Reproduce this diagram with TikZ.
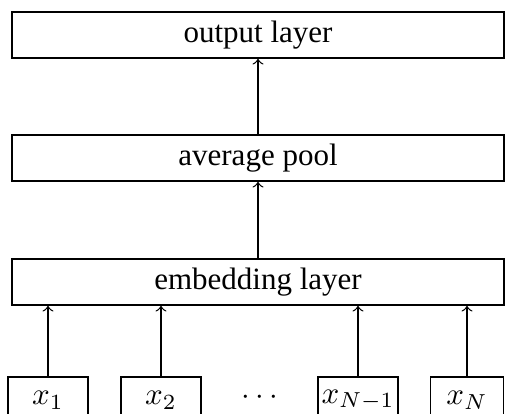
\documentclass[tikz,border=0pt]{standalone}
\usepackage{fontspec}
\setmainfont{Liberation Serif}
\begin{document}
\begin{tikzpicture}[x=1pt/3.1,y=-1pt/3.1,
  layer/.style={draw,line width=0.55pt,minimum width=492pt/3.1,minimum height=46pt/3.1,inner sep=0pt},
  token/.style={draw,line width=0.55pt,minimum width=80pt/3.1,minimum height=46pt/3.1,inner sep=0pt},
  feed/.style={->,line width=0.4pt}]
\useasboundingbox (0,0) rectangle (508,414);
\clip (0,0) rectangle (508,414);

% stacked layers
\node[layer] (out)  at (258,35)  {output layer};
\node[layer] (pool) at (258,158) {average pool};
\node[layer] (emb)  at (258,282) {embedding layer};

% input tokens
\node[token] (x1)  at (48,400)  {$x_1$};
\node[token] (x2)  at (161,400) {$x_2$};
\node        (dots) at (260,398) {$\cdots$};
\node[token] (xN1) at (358,400) {$x_{N-1}$};
\node[token,minimum width=73pt/3.1] (xN) at (467,400) {$x_N$};

% connections
\draw[feed] (pool.north) -- (out.south);
\draw[feed] (emb.north) -- (pool.south);
\foreach \t in {x1,x2,xN1,xN}
  \draw[feed] (\t.north) -- (\t.north |- emb.south);
\end{tikzpicture}
\end{document}
